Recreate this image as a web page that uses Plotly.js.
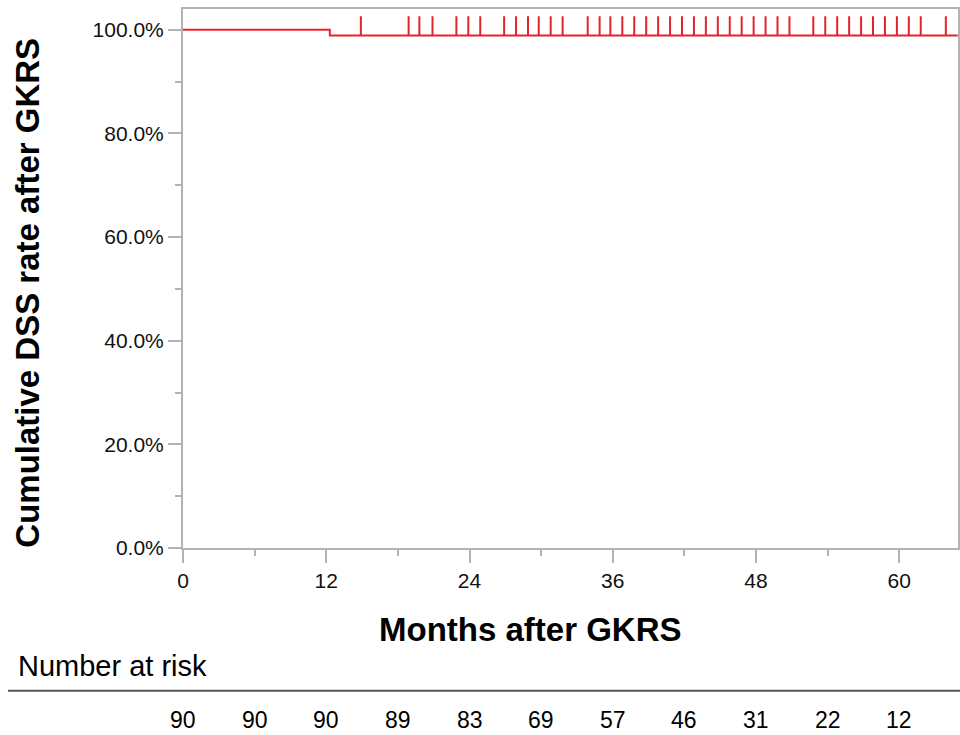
<!DOCTYPE html>
<html>
<head>
<meta charset="utf-8">
<script src="https://cdn.plot.ly/plotly-3.0.1.min.js"></script>
<style>
  html, body { margin: 0; padding: 0; background: #fff; }
  #chart { width: 960px; height: 735px; }
</style>
</head>
<body>
<div id="chart"></div>
<script>
// ---- Data ----
const stepTimes = [0, 12.3, 64.9];          // months
const stepSurvival = [100, 98.9, 98.9];      // cumulative DSS, %
const censorTimes = [14.9, 18.9, 19.8, 20.9, 22.9, 23.9, 24.9, 26.9, 27.9, 28.9,
  29.8, 30.8, 31.8, 33.9, 34.9, 35.8, 36.8, 37.8, 38.8, 39.8, 40.8, 41.8, 42.8,
  43.8, 44.8, 45.8, 46.8, 47.8, 48.8, 49.8, 50.8, 52.8, 53.8, 54.8, 55.8, 56.8,
  57.8, 58.8, 59.8, 60.8, 61.8, 63.9];
const censorSurvival = 98.9;
const riskTimes = [0, 6, 12, 18, 24, 30, 36, 42, 48, 54, 60];
const riskCounts = [90, 90, 90, 89, 83, 69, 57, 46, 31, 22, 12];
const xTickVals = [0, 12, 24, 36, 48, 60];
const yTickVals = [0, 20, 40, 60, 80, 100];
const yTickText = ["0.0%", "20.0%", "40.0%", "60.0%", "80.0%", "100.0%"];

// ---- Styles ----
const RED = "#e3232c";
const AXIS = "#b3b3b3";
const CENSOR_H = 3.7;
const FONT = "Liberation Sans, Arial, Helvetica, sans-serif";

const cx = [], cy = [];
censorTimes.forEach(t => {
  cx.push(t, t, null);
  cy.push(censorSurvival, censorSurvival + CENSOR_H, null);
});

const traces = [
  {
    x: stepTimes, y: stepSurvival, type: "scatter", mode: "lines",
    line: { shape: "hv", color: RED, width: 2 }, hoverinfo: "skip", showlegend: false
  },
  {
    x: cx, y: cy, type: "scatter", mode: "lines",
    line: { color: RED, width: 2 }, hoverinfo: "skip", showlegend: false
  }
];

const annotations = [
  {
    xref: "paper", yref: "paper", x: 0.4488, y: (548.3 - 630) / 539,
    xanchor: "center", yanchor: "middle", showarrow: false,
    text: "<b>Months after GKRS</b>", font: { family: FONT, size: 33, color: "#000" }
  },
  {
    xref: "paper", yref: "paper", x: (28 - 183) / 775, y: (548.3 - 293) / 539,
    xanchor: "center", yanchor: "middle", showarrow: false, textangle: -90,
    text: "<b>Cumulative DSS rate after GKRS</b>", font: { family: FONT, size: 33, color: "#000" }
  },
  {
    xref: "paper", yref: "paper", x: (16 - 183) / 775, y: (548.3 - 666) / 539,
    xanchor: "left", yanchor: "middle", showarrow: false,
    text: "Number at risk", font: { family: FONT, size: 29, color: "#000" }
  }
];
riskTimes.forEach((t, i) => {
  annotations.push({
    xref: "x", yref: "paper", x: t, y: (548.3 - 720) / 539,
    xanchor: "center", yanchor: "middle", showarrow: false,
    text: String(riskCounts[i]), font: { family: FONT, size: 23, color: "#000" }
  });
});

const layout = {
  width: 960, height: 735,
  margin: { l: 183, r: 2, t: 9, b: 187 },
  paper_bgcolor: "#fff", plot_bgcolor: "#fff",
  font: { family: FONT, color: "#111" },
  showlegend: false,
  xaxis: {
    range: [0, 64.92], tickvals: xTickVals, ticktext: xTickVals.map(String),
    showgrid: false, zeroline: false,
    showline: true, mirror: true, linecolor: AXIS, linewidth: 2,
    ticks: "outside", ticklen: 13, tickwidth: 2, tickcolor: AXIS,
    tickfont: { family: FONT, size: 21, color: "#111" },
    minor: { dtick: 6, ticks: "outside", ticklen: 6, tickwidth: 2, tickcolor: AXIS, showgrid: false }
  },
  yaxis: {
    range: [0, 104], tickvals: yTickVals, ticktext: yTickText,
    showgrid: false, zeroline: false,
    showline: true, mirror: true, linecolor: AXIS, linewidth: 2,
    ticks: "outside", ticklen: 13, tickwidth: 2, tickcolor: AXIS,
    tickfont: { family: FONT, size: 21, color: "#111" },
    minor: { dtick: 10, ticks: "outside", ticklen: 6, tickwidth: 2, tickcolor: AXIS, showgrid: false }
  },
  shapes: [
    {
      type: "line", xref: "paper", yref: "paper",
      x0: (8 - 183) / 775, x1: (960 - 183) / 775,
      y0: (548.3 - 691) / 539, y1: (548.3 - 691) / 539,
      line: { color: "#555", width: 2 }
    }
  ],
  annotations: annotations
};

Plotly.newPlot("chart", traces, layout, { displayModeBar: false, staticPlot: true });
</script>
</body>
</html>
